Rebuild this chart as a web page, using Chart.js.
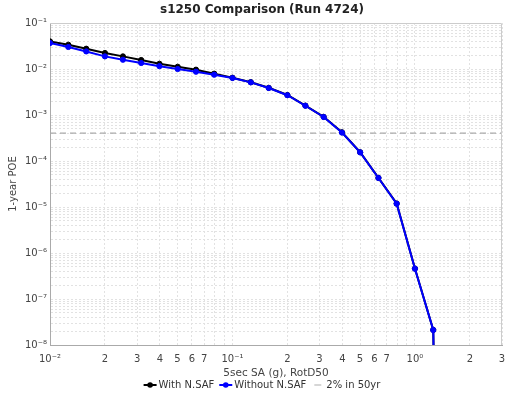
<!DOCTYPE html>
<html>
<head>
<meta charset="utf-8">
<script src="https://cdn.jsdelivr.net/npm/chart.js@4/dist/chart.umd.min.js"></script>
<style>
html,body{margin:0;padding:0;background:#fff;}
#wrap{width:525px;height:394px;position:relative;}
</style>
</head>
<body>
<div id="wrap"><canvas id="c" width="525" height="394"></canvas></div>
<script>
// ---- data ----
const imlValues = [0.01, 0.0126, 0.0158, 0.02, 0.0251, 0.0316, 0.0398, 0.0501, 0.0631, 0.0794,
  0.1, 0.126, 0.158, 0.2, 0.251, 0.316, 0.398, 0.501, 0.631, 0.794, 1.0, 1.26, 1.58];
const withNSAF = [0.0398, 0.0337, 0.0276, 0.0223, 0.0188, 0.0157, 0.0130, 0.0112, 0.00966, 0.00790,
  0.00647, 0.00517, 0.00390, 0.00272, 0.00160, 0.000912, 0.000422, 0.000155, 4.3e-5, 1.19e-5, 4.6e-7, 2.13e-8, 1e-30];
const withoutNSAF = [0.0367, 0.0301, 0.0241, 0.0188, 0.0159, 0.0135, 0.0115, 0.0100, 0.00873, 0.00752,
  0.00637, 0.00512, 0.00386, 0.00269, 0.00159, 0.000905, 0.000415, 0.000154, 4.27e-5, 1.18e-5, 4.56e-7, 2.12e-8, 1e-30];
const poe2in50 = 4.04e-4;
const seriesNames = ['With N.SAF', 'Without N.SAF', '2% in 50yr'];
const xTickValues = [0.01,0.02,0.03,0.04,0.05,0.06,0.07,0.08,0.09,
  0.1,0.2,0.3,0.4,0.5,0.6,0.7,0.8,0.9, 1,2,3];
const xTickLabels = ['10\u207B\u00B2','2','3','4','5','6','7','','',
  '10\u207B\u00B9','2','3','4','5','6','7','','', '10\u2070','2','3'];
const yDecades = [-8, -7, -6, -5, -4, -3, -2];
const yDecadeLabels = ['10\u207B\u2078','10\u207B\u2077','10\u207B\u2076','10\u207B\u2075',
  '10\u207B\u2074','10\u207B\u00B3','10\u207B\u00B2','10\u207B\u00B9'];
const yTickValues = [], yTickLabels = [];
yDecades.forEach((e, i) => {
  for (let s = 1; s <= 9; s++) {
    yTickValues.push(+(s * Math.pow(10, e)).toPrecision(3));
    yTickLabels.push(s === 1 ? yDecadeLabels[i] : '');
  }
});
yTickValues.push(0.1); yTickLabels.push(yDecadeLabels[7]);

const FONT = "'DejaVu Sans', sans-serif";
const pts = (ys) => imlValues.map((x, i) => ({x, y: ys[i]}));

const overlay = {
  id: 'overlay',
  afterDraw(chart) {
    const ctx = chart.ctx;
    const a = chart.chartArea;
    ctx.save();
    // plot border
    ctx.strokeStyle = '#cccccc';
    ctx.lineWidth = 1;
    ctx.beginPath();
    ctx.moveTo(a.left, a.top + 0.5); ctx.lineTo(a.right - 0.5, a.top + 0.5); ctx.lineTo(a.right - 0.5, a.bottom);
    ctx.stroke();
    // title
    ctx.fillStyle = '#222';
    ctx.font = 'bold 12px ' + FONT;
    ctx.textAlign = 'center'; ctx.textBaseline = 'middle';
    ctx.fillText('s1250 Comparison (Run 4724)', 262, 10);
    // legend
    ctx.font = '10px ' + FONT;
    ctx.textAlign = 'left';
    const items = [
      {label: seriesNames[0], color: '#000000', dot: true},
      {label: seriesNames[1], color: '#0000ff', dot: true},
      {label: seriesNames[2], color: '#bbbbbb', dot: false}
    ];
    const sw = 13, gap = 2, spacing = 5;
    let total = 0;
    items.forEach((it, i) => { it.w = sw + gap + ctx.measureText(it.label).width; total += it.w + (i ? spacing : 0); });
    let x = 262 - total / 2;
    const y = 385;
    items.forEach(it => {
      ctx.strokeStyle = it.color; ctx.lineWidth = it.dot ? 2 : 1.2;
      ctx.beginPath();
      if (it.dot) { ctx.moveTo(x, y); ctx.lineTo(x + sw, y); }
      else { ctx.moveTo(x + 3, y); ctx.lineTo(x + 10, y); }
      ctx.stroke();
      if (it.dot) { ctx.fillStyle = it.color; ctx.beginPath(); ctx.arc(x + sw / 2, y, 2.8, 0, Math.PI * 2); ctx.fill(); }
      ctx.fillStyle = '#333';
      ctx.fillText(it.label, x + sw + gap, y + 0.5);
      x += it.w + spacing;
    });
    ctx.restore();
  }
};

new Chart(document.getElementById('c'), {
  type: 'line',
  data: {
    datasets: [
      {label: seriesNames[0], data: pts(withNSAF), borderColor: '#000000', backgroundColor: '#000000',
       borderWidth: 2, pointRadius: 2.6, pointBorderWidth: 1, pointHoverRadius: 2.6, order: 2},
      {label: seriesNames[1], data: pts(withoutNSAF), borderColor: '#0000ff', backgroundColor: '#0000ff',
       borderWidth: 2, pointRadius: 2.6, pointBorderWidth: 1, pointHoverRadius: 2.6, order: 1},
      {label: seriesNames[2], data: [{x: 0.01, y: poe2in50}, {x: 3, y: poe2in50}], borderColor: '#aaaaaa',
       borderWidth: 1.2, borderDash: [6, 4], pointRadius: 0, order: 3}
    ]
  },
  options: {
    responsive: false,
    animation: false,
    devicePixelRatio: 1,
    layout: {padding: {top: 23, right: 23, bottom: 14, left: 0}},
    plugins: {legend: {display: false}, title: {display: false}, tooltip: {enabled: false}},
    scales: {
      x: {
        type: 'logarithmic', min: 0.01, max: 3,
        afterFit(s) { s.height = 35; },
        afterBuildTicks(s) { s.ticks = xTickValues.map(v => ({value: v})); },
        border: {display: true, color: '#aaaaaa', width: 1, dash: [2, 2]},
        grid: {color: '#e2e2e2', lineWidth: 1, drawTicks: false},
        ticks: {autoSkip: false, maxRotation: 0, padding: 8, color: '#444', font: {family: FONT, size: 10},
          callback(v, i) { return xTickLabels[i]; }},
        title: {display: true, text: '5sec SA (g), RotD50', color: '#444', font: {family: FONT, size: 10.5}, padding: 0}
      },
      y: {
        type: 'logarithmic', min: 1e-8, max: 0.1,
        afterFit(s) { s.width = 50; },
        afterBuildTicks(s) { s.ticks = yTickValues.map(v => ({value: v})); },
        border: {display: true, color: '#aaaaaa', width: 1, dash: [2, 2]},
        grid: {color: '#e2e2e2', lineWidth: 1, drawTicks: false},
        ticks: {autoSkip: false, padding: 3, color: '#444', font: {family: FONT, size: 10},
          callback(v, i) { return yTickLabels[i]; }},
        title: {display: true, text: '1-year POE', color: '#444', font: {family: FONT, size: 10}, padding: {top: 7, bottom: 0}}
      }
    }
  },
  plugins: [overlay]
});
</script>
</body>
</html>
